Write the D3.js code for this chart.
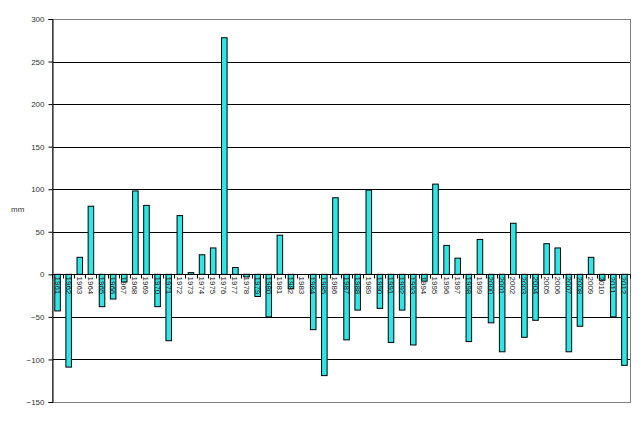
<!DOCTYPE html>
<html>
<head>
<meta charset="utf-8">
<script src="https://cdn.jsdelivr.net/npm/d3@7"></script>
<style>
  body { margin: 0; background: #fff; }
  svg { display: block; font-family: "Liberation Sans", Arial, sans-serif; }
</style>
</head>
<body>
<svg id="chart" width="643" height="421"></svg>
<script>
// years 1961..2012
const years = ['1961','1962','1963','1964','1965','1966','1967','1968','1969','1970',
  '1971','1972','1973','1974','1975','1976','1977','1978','1979','1980',
  '1981','1982','1983','1984','1985','1986','1987','1988','1989','1990',
  '1991','1992','1993','1994','1995','1996','1997','1998','1999','2000',
  '2001','2002','2003','2004','2005','2006','2007','2008','2009','2010',
  '2011','2012'];

// anomaly in mm
const values = [-43, -109, 20, 80, -38, -29, -9, 98, 81, -38,
  -78, 69, 2, 23, 31, 278, 8, -3, -26, -50,
  46, -17, 0, -65, -119, 90, -77, -42, 99, -40,
  -80, -42, -83, -8, 106, 34, 19, -79, 41, -57,
  -91, 60, -74, -54, 36, 31, -91, -61, 20, -7,
  -50, -107];

const yTicks = [300, 250, 200, 150, 100, 50, 0, -50, -100, -150];

const data = years.map((y, i) => ({ year: y, value: values[i] }));

const plot = { left: 52, right: 630, top: 19, bottom: 402 };

const svg = d3.select('#chart');

const x = d3.scaleBand()
  .domain(years)
  .range([plot.left, plot.right])
  .paddingInner(0.5)
  .paddingOuter(0.25);

const y = d3.scaleLinear()
  .domain([-150, 300])
  .range([plot.bottom, plot.top]);

const step = x.step();

// gridlines
svg.append('g')
  .selectAll('line')
  .data(yTicks.filter(d => d !== 300 && d !== -150))
  .enter()
  .append('line')
  .attr('x1', plot.left)
  .attr('x2', plot.right)
  .attr('y1', d => Math.round(y(d)) + 0.5)
  .attr('y2', d => Math.round(y(d)) + 0.5)
  .attr('stroke', '#000')
  .attr('stroke-width', 1);

// plot area border (gray)
svg.append('rect')
  .attr('x', plot.left + 0.5)
  .attr('y', plot.top + 0.5)
  .attr('width', plot.right - plot.left)
  .attr('height', plot.bottom - plot.top)
  .attr('fill', 'none')
  .attr('stroke', '#808080')
  .attr('stroke-width', 1);

// bars
svg.append('g')
  .selectAll('rect')
  .data(data)
  .enter()
  .append('rect')
  .attr('x', d => x(d.year))
  .attr('y', d => y(Math.max(0, d.value)))
  .attr('width', x.bandwidth())
  .attr('height', d => Math.abs(y(d.value) - y(0)))
  .attr('fill', '#2ee6e6')
  .attr('stroke', '#000')
  .attr('stroke-width', 1);

// y axis
const yAxis = svg.append('g')
  .attr('transform', `translate(${plot.left + 0.5},0)`)
  .call(d3.axisLeft(y).tickValues(yTicks).tickSize(4).tickPadding(4));
yAxis.select('.domain').attr('stroke', '#000');
yAxis.selectAll('.tick line').attr('stroke', '#000');
yAxis.selectAll('.tick text')
  .attr('fill', '#333')
  .style('font-size', '8px')
  .style('font-family', '"Liberation Sans", Arial, sans-serif');

// zero line with category-boundary ticks
const zeroY = Math.round(y(0)) + 0.5;
svg.append('line')
  .attr('x1', plot.left)
  .attr('x2', plot.right)
  .attr('y1', zeroY)
  .attr('y2', zeroY)
  .attr('stroke', '#000');

const bounds = years.map(d => x(d) - step * 0.25).concat([plot.right]);
svg.append('g')
  .selectAll('line')
  .data(bounds)
  .enter()
  .append('line')
  .attr('x1', d => Math.round(d) + 0.5)
  .attr('x2', d => Math.round(d) + 0.5)
  .attr('y1', zeroY)
  .attr('y2', zeroY + 4)
  .attr('stroke', '#000');

// year labels, rotated
svg.append('g')
  .selectAll('text')
  .data(years)
  .enter()
  .append('text')
  .attr('transform', d => `translate(${x(d) + x.bandwidth() / 2 - 3},${zeroY + 2}) rotate(90)`)
  .attr('font-size', '8px')
  .attr('fill', '#222')
  .text(d => d);

// unit label
svg.append('text')
  .attr('x', 11)
  .attr('y', 212)
  .attr('font-size', '8px')
  .attr('fill', '#333')
  .text('mm');
</script>
</body>
</html>
